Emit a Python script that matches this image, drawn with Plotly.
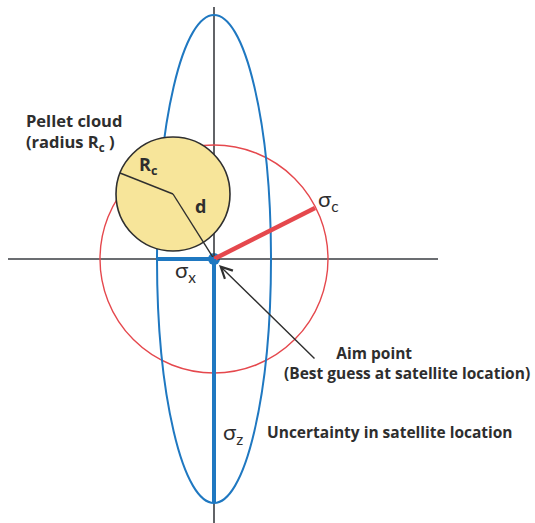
import plotly.graph_objects as go

# Diagram geometry (units = pixels, origin at aim point, y up)
aim_point = [0, 0]
ellipse_semi = [57, 244]          # sigma_x, sigma_z
sigma_c_radius = [114]
sigma_c_angle_pt = [101, 51]       # end of sigma_c radius line
cloud_center = [-41, 65]
cloud_radius = [57]
rc_end = [-94, 86]
axis_x = [-206, 224]
axis_y = [-264, 252]
arrow_tail = [102, -101]
arrow_head = [5, -6]

FONT = "Open Sans"
DARK = "#2e2e2e"
BLUE = "#1f78c1"
RED = "#e5484d"

fig = go.Figure()
shapes = []
# axes
shapes.append(dict(type="line", x0=axis_x[0], x1=axis_x[1], y0=0, y1=0, line=dict(color="#3a3d42", width=1.6)))
shapes.append(dict(type="line", x0=0, x1=0, y0=axis_y[0], y1=axis_y[1], line=dict(color="#3a3d42", width=1.6)))
# red circle
r = sigma_c_radius[0]
shapes.append(dict(type="circle", x0=-r, x1=r, y0=-r, y1=r, line=dict(color=RED, width=1.4)))
# blue ellipse
shapes.append(dict(type="circle", x0=-ellipse_semi[0], x1=ellipse_semi[0], y0=-ellipse_semi[1], y1=ellipse_semi[1], line=dict(color=BLUE, width=2)))
# yellow pellet cloud
cr = cloud_radius[0]
shapes.append(dict(type="circle", x0=cloud_center[0]-cr, x1=cloud_center[0]+cr, y0=cloud_center[1]-cr, y1=cloud_center[1]+cr,
                   fillcolor="#f7e59a", line=dict(color="#2f2f2f", width=1.6)))
# Rc line and d line
shapes.append(dict(type="line", x0=cloud_center[0], y0=cloud_center[1], x1=rc_end[0], y1=rc_end[1], line=dict(color="#2f2f2f", width=1.4)))
shapes.append(dict(type="line", x0=cloud_center[0], y0=cloud_center[1], x1=aim_point[0], y1=aim_point[1], line=dict(color="#2f2f2f", width=1.4)))
# sigma lines
shapes.append(dict(type="line", x0=0, y0=0, x1=sigma_c_angle_pt[0], y1=sigma_c_angle_pt[1], line=dict(color=RED, width=4.5)))
shapes.append(dict(type="line", x0=-ellipse_semi[0], y0=0, x1=0, y1=0, line=dict(color=BLUE, width=4)))
shapes.append(dict(type="line", x0=0, y0=0, x1=0, y1=-ellipse_semi[1], line=dict(color=BLUE, width=4)))

fig.add_trace(go.Scatter(x=[cloud_center[0]], y=[cloud_center[1]], mode="markers",
                         marker=dict(color="#222222", size=9), hoverinfo="skip", showlegend=False))
fig.add_trace(go.Scatter(x=[aim_point[0]], y=[aim_point[1]], mode="markers",
                         marker=dict(color=BLUE, size=12), hoverinfo="skip", showlegend=False))

ann = []
def t(x, y, text, size=16, bold=True, xanchor="left", color=DARK, family=FONT):
    ann.append(dict(x=x, y=y, text=text, showarrow=False, xanchor=xanchor, yanchor="middle", borderpad=0,
                    align="left",
                    font=dict(family=family, size=size, color=color, weight=("bold" if bold else "normal"))))

t(-189, 127, "Pellet cloud<br>(radius R<sub>c</sub> )", 16.5)
t(-76, 94, "R<sub>c</sub>", 18)
t(-20, 53, "d", 18)
t(103, 59, "σ<sub>c</sub>", 22, bold=False, family="Lato")
t(-40, -12, "σ<sub>x</sub>", 22, bold=False, family="Lato")
t(8, -174, "σ<sub>z</sub>", 22, bold=False, family="Lato")
t(69, -103.5, "&nbsp;" * 13 + "Aim point<br>(Best guess at satellite location)", 15.5)
t(52, -173, "Uncertainty in satellite location", 15.5)

ann.append(dict(x=arrow_head[0], y=arrow_head[1], ax=arrow_tail[0], ay=arrow_tail[1], xref="x", yref="y",
                axref="x", ayref="y", showarrow=True, arrowhead=5, arrowsize=1.6, arrowwidth=1.4,
                arrowcolor="#2f2f2f", text=""))

fig.update_layout(
    width=535, height=523, margin=dict(l=0, r=0, t=0, b=0),
    paper_bgcolor="white", plot_bgcolor="white",
    shapes=shapes, annotations=ann, showlegend=False,
    xaxis=dict(range=[-214, 321], visible=False, fixedrange=True),
    yaxis=dict(range=[-264, 259], visible=False, fixedrange=True),
)
fig.write_html("out.html", config={"displayModeBar": False},
               post_script="document.body.style.margin='0';document.body.style.overflow='hidden';")
